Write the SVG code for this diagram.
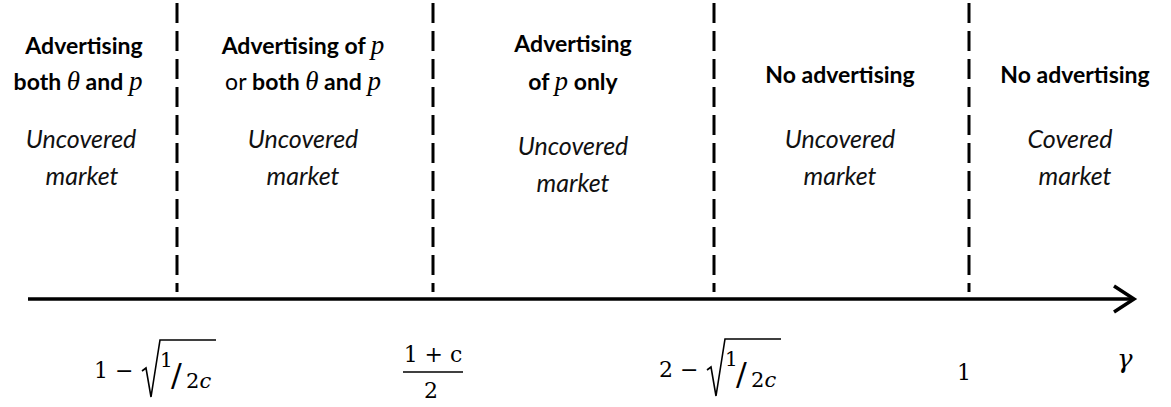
<svg xmlns="http://www.w3.org/2000/svg" width="1171" height="407" viewBox="0 0 1171 407">
<style>
.b{font-family:Lato,"Open Sans",sans-serif;font-weight:bold;font-size:23px;fill:#000}
.r{font-weight:normal}
.i{font-family:Lato,"Open Sans",sans-serif;font-style:italic;font-size:25px;fill:#111}
.m{font-family:"Liberation Serif",serif;font-style:italic;font-weight:normal;font-size:27px}
.n{font-family:"DejaVu Serif",serif;font-size:22px;fill:#000}
.dash{stroke:#000;stroke-width:3;stroke-dasharray:20 8;fill:none}
.ax{stroke:#000;stroke-width:3.5;fill:none}
.ln{stroke:#000;stroke-width:1.6;fill:none}
</style>
<rect width="1171" height="407" fill="#fff"/>
<g id="connectors">
<line class="dash" x1="177" y1="3" x2="177" y2="292"/>
<line class="dash" x1="433" y1="3" x2="433" y2="292"/>
<line class="dash" x1="714" y1="3" x2="714" y2="292"/>
<line class="dash" x1="969" y1="3" x2="969" y2="292"/>
<line class="ax" x1="28" y1="299" x2="1133" y2="299"/>
<polyline class="ax" points="1114,286 1134,299 1114,312" stroke-linejoin="miter"/>
</g>
<g id="region1">
<text class="b" x="84" y="54" text-anchor="middle">Advertising</text>
<text class="b" x="78" y="90" text-anchor="middle">both <tspan class="m">θ</tspan> and <tspan class="m">p</tspan></text>
<text class="i" x="81" y="148" text-anchor="middle">Uncovered</text>
<text class="i" x="82" y="185" text-anchor="middle">market</text>
</g>
<g id="region2">
<text class="b" x="303" y="54" text-anchor="middle">Advertising of <tspan class="m">p</tspan></text>
<text class="b" x="303" y="90" text-anchor="middle"><tspan class="r">or</tspan> both <tspan class="m">θ</tspan> and <tspan class="m">p</tspan></text>
<text class="i" x="303" y="148" text-anchor="middle">Uncovered</text>
<text class="i" x="303" y="185" text-anchor="middle">market</text>
</g>
<g id="region3">
<text class="b" x="573" y="52" text-anchor="middle">Advertising</text>
<text class="b" x="573" y="90" text-anchor="middle">of <tspan class="m">p</tspan> only</text>
<text class="i" x="573" y="155" text-anchor="middle">Uncovered</text>
<text class="i" x="573" y="192" text-anchor="middle">market</text>
</g>
<g id="region4">
<text class="b" x="840" y="83" text-anchor="middle">No advertising</text>
<text class="i" x="840" y="148" text-anchor="middle">Uncovered</text>
<text class="i" x="840" y="185" text-anchor="middle">market</text>
</g>
<g id="region5">
<text class="b" x="1075" y="83" text-anchor="middle">No advertising</text>
<text class="i" x="1070" y="148" text-anchor="middle">Covered</text>
<text class="i" x="1075" y="185" text-anchor="middle">market</text>
</g>
<g id="label1">
<text class="n" x="94" y="378">1</text>
<text class="n" x="115" y="378">−</text>
<path class="ln" d="M142,371 L146,368 L151,397 L160,340 L216,340"/>
<text class="n" x="160" y="367" style="font-size:20px">1</text>
<text class="n" x="171" y="386" style="font-size:32px">/</text>
<text class="n" x="186" y="388" style="font-size:21px">2<tspan font-style="italic">c</tspan></text>
</g>
<g id="label2">
<text class="n" x="433" y="362" text-anchor="middle">1 + c</text>
<line class="ln" x1="403" y1="372" x2="463" y2="372"/>
<text class="n" x="431" y="398" text-anchor="middle">2</text>
</g>
<g id="label3">
<text class="n" x="659" y="377">2</text>
<text class="n" x="680" y="377">−</text>
<path class="ln" d="M707,370 L711,367 L716,396 L725,339 L781,339"/>
<text class="n" x="725" y="366" style="font-size:20px">1</text>
<text class="n" x="736" y="385" style="font-size:32px">/</text>
<text class="n" x="751" y="387" style="font-size:21px">2<tspan font-style="italic">c</tspan></text>
</g>
<g id="label4">
<text class="n" x="964" y="380" text-anchor="middle">1</text>
</g>
<g id="label5">
<text class="n" x="1117" y="368" style="font-size:26px;font-style:italic">γ</text>
</g>
</svg>
